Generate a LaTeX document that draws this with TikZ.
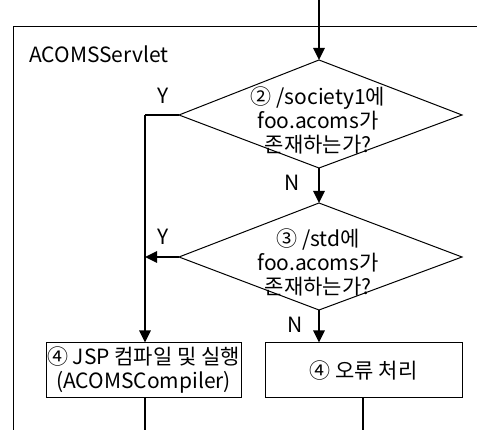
\documentclass[tikz,border=0pt]{standalone}
\usepackage{fontspec}
\setmainfont{Noto Sans CJK KR}
\usetikzlibrary{arrows.meta}
\begin{document}
\begin{tikzpicture}[x=1pt,y=-1pt,
  flow/.style={line width=2.6pt,-{Triangle[length=12pt,width=11pt]}},
  plain/.style={line width=2.6pt},
  outline/.style={draw,line width=1pt},
  lbl/.style={font=\fontsize{21}{24}\selectfont,inner sep=0pt},
  txt/.style={font=\fontsize{21}{24}\selectfont,align=center,inner sep=0pt}]
\useasboundingbox (0,0) rectangle (477,430);
% frame
\draw[line width=1pt] (477,27) -- (13,27) -- (13,430);
\node[lbl,anchor=west] (title) at (29,54) {ACOMSServlet};
% coordinates
\coordinate (start) at (319,0);
\coordinate (d1t) at (319,60);
\coordinate (d1l) at (179,115);
\coordinate (d1r) at (462,115);
\coordinate (d1b) at (319,168);
\coordinate (d2t) at (319,203);
\coordinate (d2l) at (179,257);
\coordinate (d2r) at (462,257);
\coordinate (d2b) at (319,310);
\coordinate (ybend) at (145,115);
\coordinate (yjoin) at (145,257);
\draw[outline] (d1t) -- (d1r) -- (d1b) -- (d1l) -- cycle;
\draw[outline] (d2t) -- (d2r) -- (d2b) -- (d2l) -- cycle;
\node[txt] (q1) at (318,120) {② /society1에\\foo.acoms가\\존재하는가?};
\node[txt] (q2) at (318,262) {③ /std에\\foo.acoms가\\존재하는가?};
\node[outline,minimum width=195pt,minimum height=55pt,inner sep=0pt] (b1) at (143.5,370.5) {};
\node[txt] (b1t) at (b1.center) {④ JSP 컴파일 및 실행\\(ACOMSCompiler)};
\node[outline,minimum width=197pt,minimum height=55pt,inner sep=0pt] (b2) at (363.5,370.5) {};
\node[txt] (b2t) at (b2.center) {④ 오류 처리};
\coordinate (b1bot) at (145,430);
\coordinate (b2bot) at (363,430);
% connectors
\draw[plain] (d1l) -- (ybend);
\draw[flow] (ybend) -- (b1.north -| ybend);
\draw[flow] (start) -- (d1t);
\draw[flow] (d1b) -- (d2t);
\draw[flow] (d2l) -- (yjoin);
\draw[flow] (d2b) -- (b2.north -| d2b);
\draw[plain] (b1.south -| b1bot) -- (b1bot);
\draw[plain] (b2.south -| b2bot) -- (b2bot);
% labels
\node[lbl] (y1) at (163,96) {Y};
\node[lbl] (n1) at (292,183) {N};
\node[lbl] (y2) at (163,237) {Y};
\node[lbl] (n2) at (295,325) {N};
\end{tikzpicture}
\end{document}
